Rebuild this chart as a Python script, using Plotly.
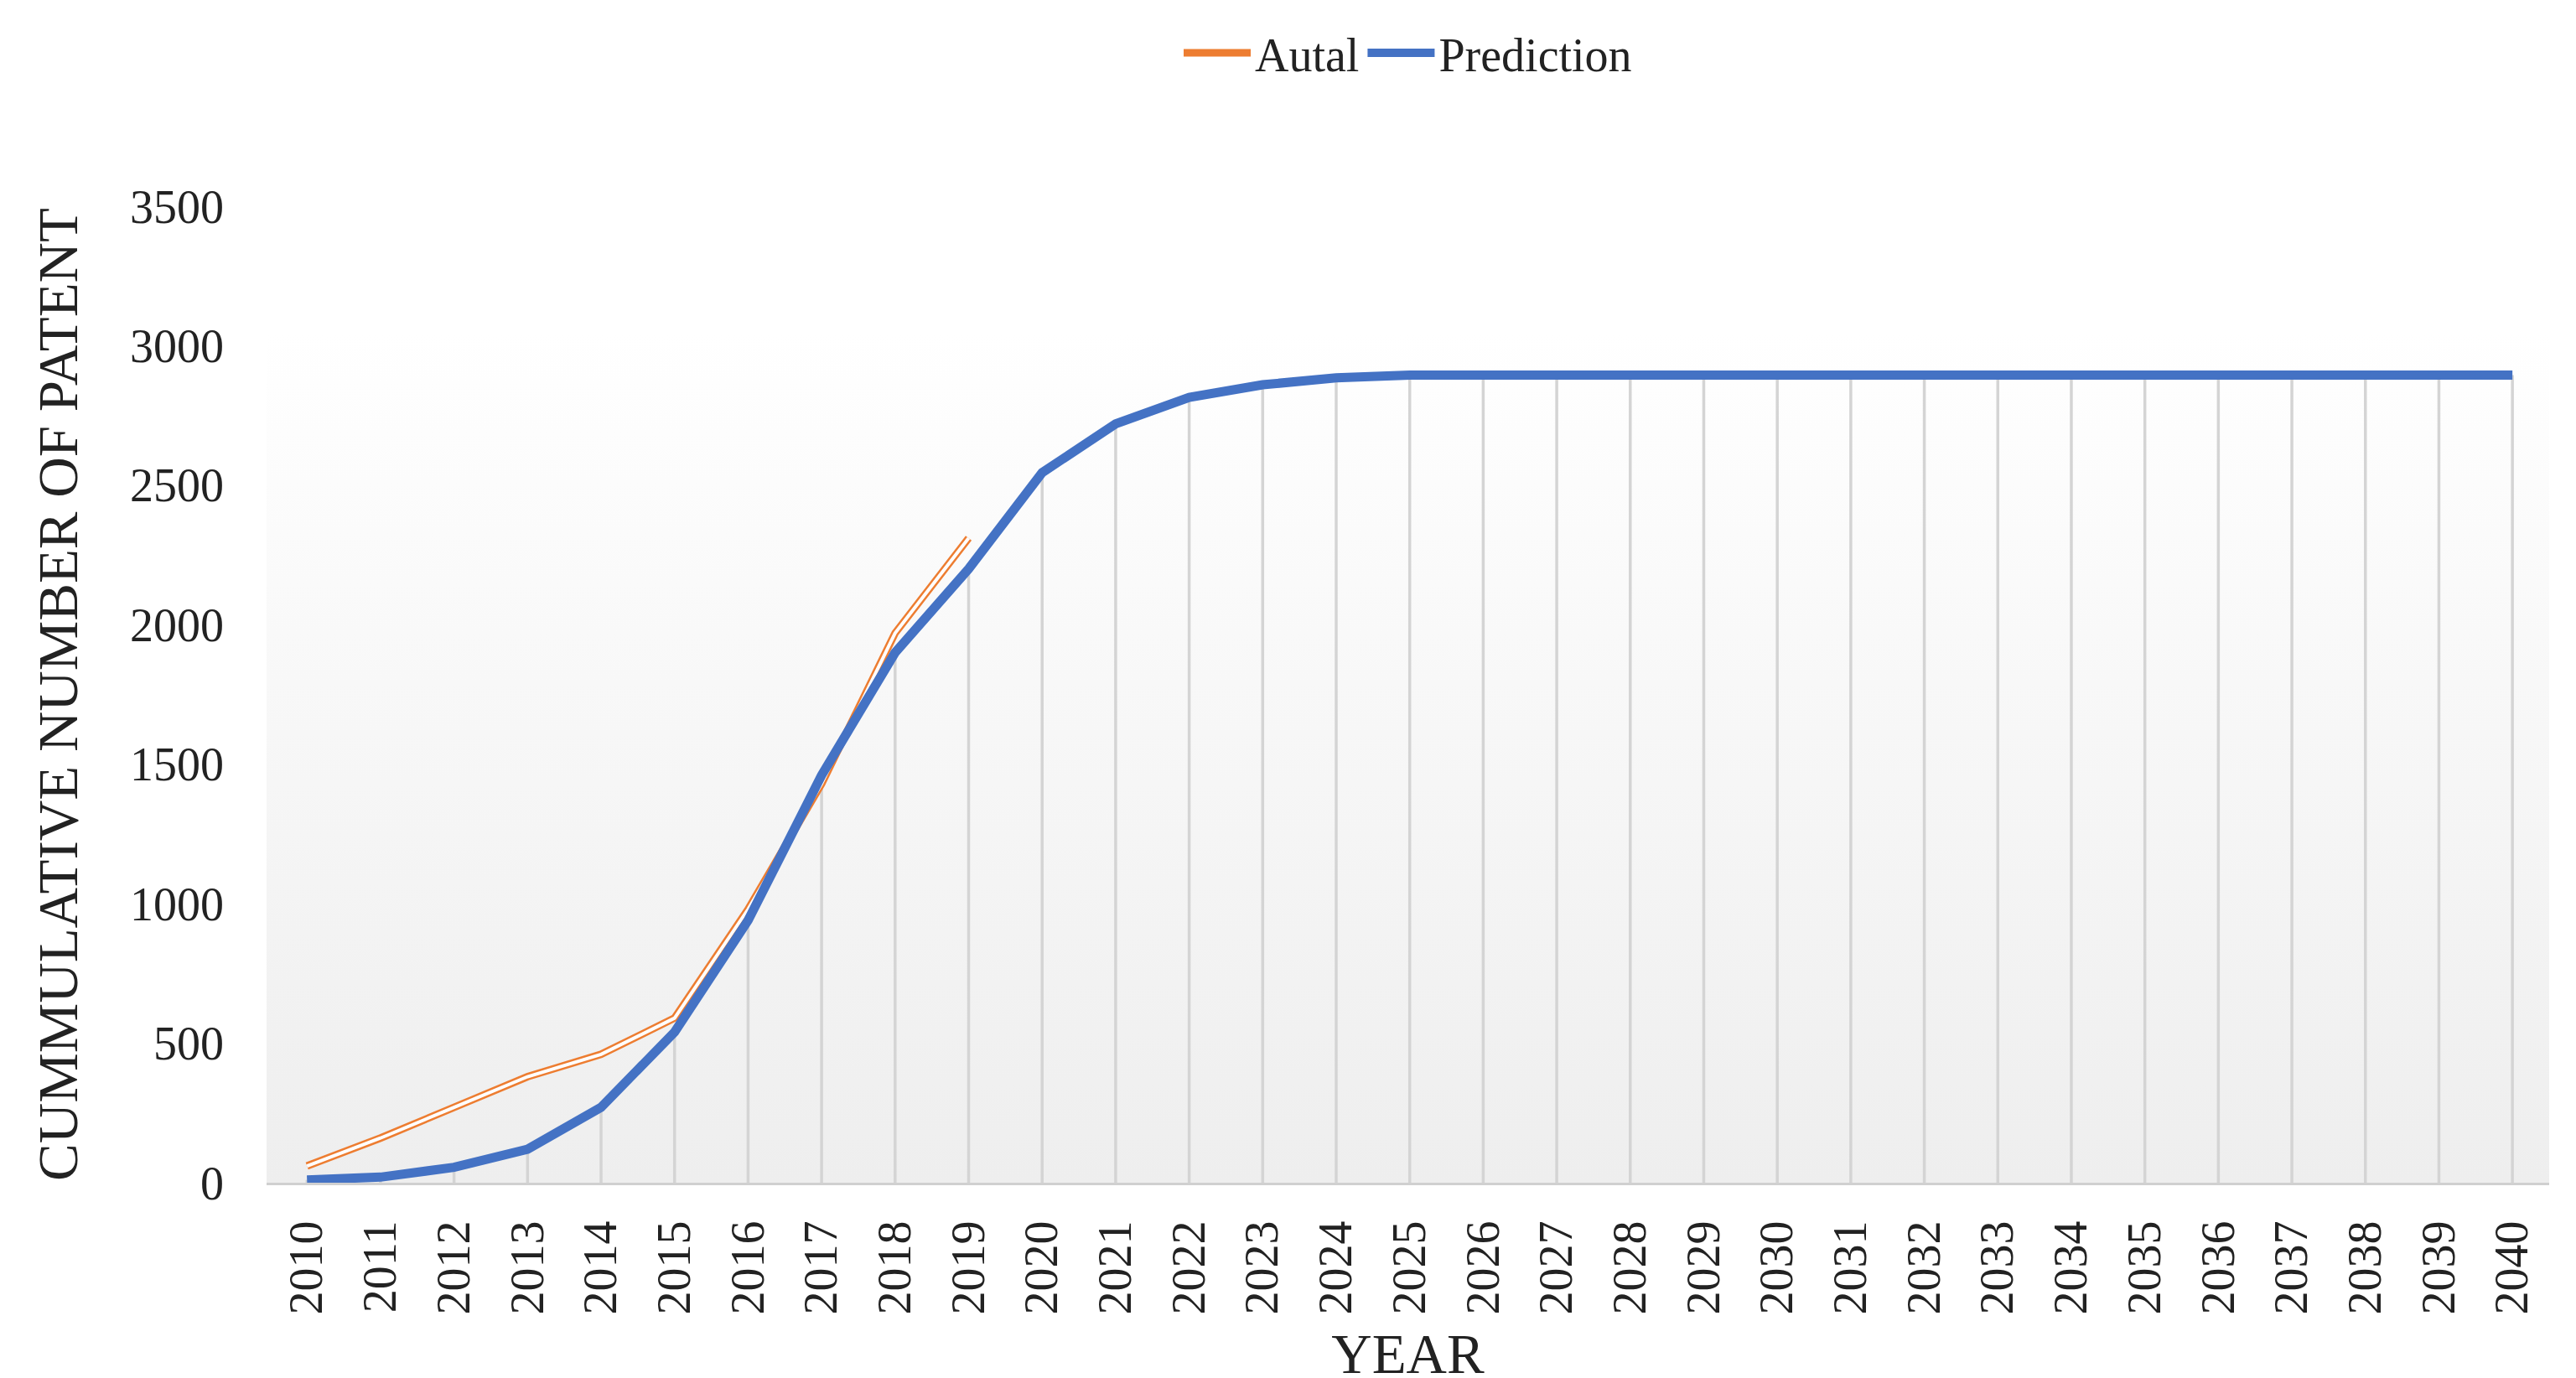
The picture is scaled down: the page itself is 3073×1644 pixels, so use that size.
import plotly.graph_objects as go

years = list(range(2010, 2041))
actual_years = list(range(2010, 2020))
actual = [60, 160, 270, 380, 460, 590, 980, 1430, 1970, 2310]
prediction = [10, 20, 55, 120, 270, 540, 940, 1460, 1900, 2200, 2545, 2720, 2815, 2860, 2885, 2895,
              2895, 2895, 2895, 2895, 2895, 2895, 2895, 2895, 2895, 2895, 2895, 2895, 2895, 2895, 2895]

FONT = "Liberation Serif"
fig = go.Figure()

fig.add_trace(go.Scatter(x=[2009.45, 2040.5, 2040.5, 2009.45, 2009.45], y=[0, 0, 3050, 3050, 0],
                         fill="toself", mode="none", showlegend=False, hoverinfo="skip",
                         fillgradient=dict(type="vertical", colorscale=[[0, "#eeeeee"], [1, "#ffffff"]])))

dx, dy = [], []
for x, y in zip(years, prediction):
    dx += [x, x, None]
    dy += [0, y, None]
fig.add_trace(go.Scatter(x=dx, y=dy, mode="lines", line=dict(color="#d4d4d4", width=3.5),
                         showlegend=False, hoverinfo="skip"))

fig.add_trace(go.Scatter(x=actual_years, y=actual, mode="lines", name="Autal",
                         line=dict(color="#ed7d31", width=9), legendgroup="a"))
fig.add_trace(go.Scatter(x=actual_years, y=actual, mode="lines", showlegend=False,
                         line=dict(color="#ffffff", width=4), legendgroup="a"))
fig.add_trace(go.Scatter(x=years, y=prediction, mode="lines", name="Prediction",
                         line=dict(color="#4472c4", width=11)))

fig.update_layout(
    width=3073, height=1644, paper_bgcolor="white", plot_bgcolor="white",
    font=dict(family=FONT, size=56, color="#222"),
    margin=dict(l=310, r=40, t=90, b=230),
    legend=dict(orientation="h", x=0.5, xanchor="center", y=1.12, yanchor="bottom",
                font=dict(size=56), itemwidth=80),
    xaxis=dict(range=[2009.45, 2040.5], tickmode="array", tickvals=years,
               ticktext=[str(y) for y in years], tickangle=-90, showgrid=False,
               showline=True, linecolor="#d0d0d0", linewidth=3, zeroline=False,
               ticklabelstandoff=20, title=dict(text="YEAR", standoff=25)),
    yaxis=dict(range=[0, 3500], dtick=500, showgrid=False, zeroline=False,
               ticklabelstandoff=50,
               title=dict(text="CUMMULATIVE NUMBER OF PATENT", standoff=40)),
)
fig.write_html("out.html")
